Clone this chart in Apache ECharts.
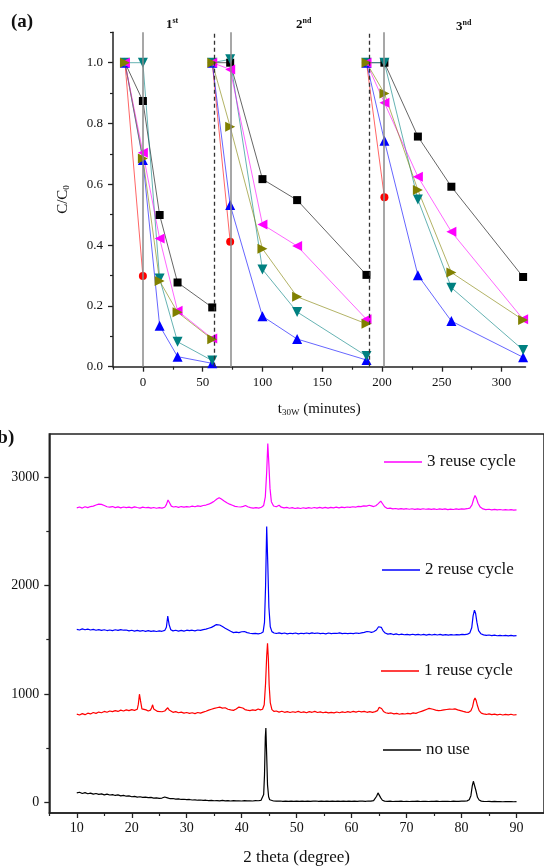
<!DOCTYPE html>
<html><head><meta charset="utf-8">
<script src="https://cdn.jsdelivr.net/npm/echarts@6/dist/echarts.min.js"></script>
<style>html,body{margin:0;padding:0;background:#fff}#c{width:544px;height:867px}</style>
</head><body><div id="c"></div><script>
// ---------- Panel (a) data ----------
const timesCycle1 = [-15, 0, 14, 29, 58];
const timesCycle2 = [58, 73, 100, 129, 187];
const timesCycle3 = [187, 202, 230, 258, 318];
const lightOnT = [0, 73.3, 201.7];
const cycleEndT = [60, 189.6];

const squareC1 = [1.0, 0.874, 0.499, 0.277, 0.195];
const squareC2 = [1.0, 1.0, 0.617, 0.548, 0.302];
const squareC3 = [1.0, 1.0, 0.757, 0.592, 0.295];
const circleC1 = [1.0, 0.298, null, null, null];
const circleC2 = [1.0, 0.411, null, null, null];
const circleC3 = [1.0, 0.557, null, null, null];
const leftTriC1 = [1.0, 0.704, 0.422, 0.184, 0.093];
const leftTriC2 = [1.0, 0.978, 0.468, 0.397, 0.156];
const leftTriC3 = [1.0, 0.868, 0.625, 0.444, 0.156];
const rightTriC1 = [1.0, 0.685, 0.282, 0.179, 0.090];
const rightTriC2 = [1.0, 0.789, 0.388, 0.230, 0.141];
const rightTriC3 = [1.0, 0.899, 0.581, 0.310, 0.154];
const downTriC1 = [1.0, 1.0, 0.290, 0.082, 0.020];
const downTriC2 = [1.0, 1.011, 0.320, 0.180, 0.035];
const downTriC3 = [1.0, 1.0, 0.550, 0.260, 0.055];
const upTriC1 = [1.0, 0.680, 0.135, 0.033, 0.011];
const upTriC2 = [1.0, 0.532, 0.166, 0.091, 0.022];
const upTriC3 = [1.0, 0.743, 0.301, 0.150, 0.031];

const aXLabels = [0, 50, 100, 150, 200, 250, 300];
const aXMinor = [-25, 25, 75, 125, 175, 225, 275];
const aYLabels = [0, 0.2, 0.4, 0.6, 0.8, 1.0];
const aYMinor = [0.1, 0.3, 0.5, 0.7, 0.9, 1.1];

// ---------- Panel (b) data ----------
const bXLabels = [10, 20, 30, 40, 50, 60, 70, 80, 90];
const bXMinor = [5, 15, 25, 35, 45, 55, 65, 75, 85];
const bYLabels = [0, 1000, 2000, 3000];
const bYMinor = [500, 1500, 2500];

const noUse = [[10,86],[10.5,92],[11,80],[11.5,88],[12,78],[12.5,84],[13,74],[13.5,80],[14,72],[14.5,76],[15,68],[15.5,74],[16,66],[16.5,70],[17,62],[17.5,67],[18,58],[18.5,63],[19,55],[19.5,58],[20,50],[20.5,54],[21,47],[21.5,50],[22,44],[22.5,47],[23,42],[23.5,44],[24,38],[24.5,40],[25,35],[25.5,38],[26,48],[26.2,56],[26.5,40],[27,32],[27.5,34],[28,28],[28.5,30],[29,25],[29.5,27],[30,23],[30.5,25],[31,20],[31.5,22],[32,18],[32.5,20],[33,16],[33.5,18],[34,14],[34.5,17],[35,13],[35.5,15],[36,12],[36.5,16],[37,12],[37.5,14],[38,11],[38.5,15],[39,12],[39.5,13],[40,11],[40.5,14],[41,12],[41.5,13],[42,11],[42.5,14],[43,13],[43.5,16],[43.8,22],[44.0,70],[44.15,250],[44.3,600],[44.4,684],[44.55,430],[44.7,160],[44.9,50],[45.1,22],[45.4,14],[45.8,11],[46.3,9],[47,11],[47.5,8],[48,10],[48.5,7],[49,9],[49.5,8],[50,10],[50.5,7],[51,9],[51.5,8],[52,10],[52.5,7],[53,9],[53.5,11],[54,8],[54.5,10],[55,7],[55.5,9],[56,8],[56.5,10],[57,7],[57.5,9],[58,8],[58.5,10],[59,7],[59.5,9],[60,8],[60.5,10],[61,8],[61.5,9],[62,10],[62.5,8],[63,11],[63.5,10],[64,14],[64.3,25],[64.55,55],[64.8,86],[65.05,70],[65.3,40],[65.6,18],[66,10],[66.5,8],[67,9],[67.5,6],[68,8],[68.5,7],[69,9],[69.5,6],[70,8],[70.5,6],[71,8],[71.5,7],[72,9],[72.5,6],[73,8],[73.5,7],[74,6],[74.5,8],[75,7],[75.5,9],[76,6],[76.5,8],[77,7],[77.5,8],[78,6],[78.5,9],[79,7],[79.5,8],[80,9],[80.5,10],[81,12],[81.4,22],[81.7,60],[81.95,150],[82.15,193],[82.35,175],[82.6,110],[82.9,45],[83.2,20],[83.6,10],[84,7],[84.5,6],[85,8],[85.5,5],[86,7],[86.5,5],[87,6],[87.5,4],[88,6],[88.5,5],[89,6],[89.5,4],[90,5]];

const reuse1 = [[10,813],[10.5,805],[11,818],[11.5,808],[12,822],[12.5,815],[13,828],[13.5,820],[14,832],[14.5,826],[15,838],[15.5,830],[16,842],[16.5,836],[17,845],[17.5,838],[18,850],[18.5,842],[19,852],[19.5,845],[20,855],[20.5,848],[21,858],[21.2,905],[21.4,997],[21.6,935],[21.85,862],[22.2,845],[22.6,852],[23,842],[23.4,850],[23.6,870],[23.8,899],[24.0,860],[24.3,845],[24.7,838],[25,845],[25.5,835],[26,842],[26.3,848],[26.55,872],[26.8,852],[27.1,835],[27.5,830],[28,836],[28.5,826],[29,832],[29.5,822],[30,828],[30.5,820],[31,826],[31.5,818],[32,828],[32.5,822],[33,832],[33.5,840],[34,850],[34.5,858],[35,866],[35.5,872],[36,878],[36.5,868],[37,872],[37.5,858],[38,852],[38.5,848],[39,860],[39.5,878],[39.8,881],[40.2,870],[40.6,855],[41,850],[41.5,846],[42,852],[42.5,848],[43,860],[43.4,852],[43.8,858],[44.1,900],[44.35,1100],[44.55,1350],[44.7,1467],[44.85,1330],[45.0,1080],[45.2,920],[45.5,855],[45.9,838],[46.3,842],[46.8,832],[47.3,840],[47.8,830],[48.3,836],[48.8,828],[49.3,835],[49.8,830],[50.3,838],[50.8,828],[51.3,834],[51.8,826],[52.3,836],[52.8,830],[53.3,838],[53.8,828],[54.3,834],[54.8,826],[55.3,832],[55.8,824],[56.3,830],[56.8,825],[57.3,833],[57.8,826],[58.3,834],[58.8,828],[59.3,836],[59.8,830],[60.3,838],[60.8,832],[61.3,840],[61.8,834],[62.3,838],[62.8,830],[63.3,836],[63.8,830],[64.3,836],[64.7,845],[65.0,875],[65.2,883],[65.45,865],[65.8,838],[66.2,826],[66.7,820],[67.2,824],[67.7,815],[68.2,820],[68.7,812],[69.2,818],[69.7,814],[70.2,820],[70.7,816],[71.2,824],[71.7,820],[72.2,830],[72.7,838],[73.2,848],[73.7,858],[74.1,866],[74.4,868],[74.8,858],[75.3,850],[75.8,845],[76.3,848],[76.8,852],[77.3,856],[77.8,860],[78.3,858],[78.8,862],[79.3,852],[79.8,845],[80.3,838],[80.8,832],[81.3,830],[81.7,845],[82.0,880],[82.25,940],[82.45,961],[82.65,940],[82.9,890],[83.2,845],[83.6,822],[84,815],[84.5,810],[85,816],[85.5,808],[86,813],[86.5,806],[87,812],[87.5,805],[88,810],[88.5,806],[89,812],[89.5,805],[90,808]];

const reuse2 = [[10,1596],[10.5,1590],[11,1600],[11.5,1592],[12,1598],[12.5,1590],[13,1596],[13.5,1588],[14,1594],[14.5,1586],[15,1592],[15.5,1585],[16,1590],[16.5,1584],[17,1592],[17.5,1586],[18,1594],[18.5,1588],[19,1590],[19.5,1582],[20,1588],[20.5,1580],[21,1586],[21.5,1580],[22,1585],[22.5,1578],[23,1584],[23.5,1578],[24,1582],[24.5,1576],[25,1582],[25.5,1578],[26,1586],[26.3,1615],[26.55,1718],[26.8,1640],[27.1,1592],[27.5,1582],[28,1588],[28.5,1580],[29,1586],[29.5,1580],[30,1588],[30.2,1602],[30.5,1584],[31,1588],[31.5,1582],[32,1590],[32.5,1586],[33,1594],[33.5,1598],[34,1606],[34.5,1614],[35,1628],[35.4,1640],[35.7,1646],[36,1636],[36.5,1622],[37,1606],[37.5,1592],[38,1578],[38.5,1566],[39,1570],[39.5,1566],[40,1574],[40.5,1576],[41,1566],[41.5,1560],[42,1556],[42.5,1558],[43,1554],[43.5,1560],[43.9,1572],[44.15,1660],[44.35,2000],[44.55,2546],[44.75,2200],[44.95,1800],[45.2,1620],[45.5,1575],[45.9,1562],[46.3,1558],[46.8,1564],[47.3,1556],[47.8,1562],[48.3,1554],[48.8,1560],[49.3,1556],[49.8,1562],[50.3,1554],[50.8,1560],[51.3,1556],[51.8,1562],[52.3,1556],[52.8,1564],[53.3,1558],[53.8,1562],[54.3,1556],[54.8,1560],[55.3,1554],[55.8,1562],[56.3,1556],[56.8,1560],[57.3,1558],[57.8,1564],[58.3,1556],[58.8,1560],[59.3,1556],[59.8,1560],[60.3,1556],[60.8,1562],[61.3,1558],[61.8,1564],[62.3,1568],[62.8,1576],[63.2,1574],[63.6,1568],[64,1574],[64.5,1590],[64.9,1620],[65.15,1637],[65.4,1615],[65.7,1585],[66.1,1562],[66.6,1552],[67.1,1556],[67.6,1548],[68.1,1554],[68.6,1546],[69.1,1552],[69.6,1546],[70.1,1550],[70.6,1545],[71.1,1551],[71.6,1545],[72.1,1550],[72.6,1544],[73.1,1549],[73.6,1543],[74.1,1549],[74.6,1544],[75.1,1550],[75.6,1544],[76.1,1549],[76.6,1543],[77.1,1548],[77.6,1543],[78.1,1548],[78.6,1544],[79.1,1548],[79.6,1545],[80.1,1550],[80.6,1548],[81.1,1552],[81.5,1562],[81.85,1610],[82.1,1720],[82.35,1773],[82.55,1745],[82.8,1660],[83.1,1585],[83.5,1556],[84,1545],[84.5,1540],[85,1544],[85.5,1538],[86,1542],[86.5,1537],[87,1541],[87.5,1537],[88,1540],[88.5,1536],[89,1540],[89.5,1536],[90,1538]];

const reuse3 = [[10,2718],[10.5,2726],[11,2716],[11.5,2728],[12,2720],[12.5,2730],[13,2734],[13.5,2744],[14,2752],[14.5,2750],[15,2740],[15.5,2728],[16,2724],[16.5,2730],[17,2720],[17.5,2727],[18,2718],[18.5,2726],[19,2720],[19.5,2725],[20,2718],[20.5,2727],[21,2721],[21.5,2716],[22,2725],[22.5,2719],[23,2723],[23.5,2715],[24,2721],[24.5,2714],[25,2720],[25.5,2716],[26,2724],[26.3,2748],[26.6,2790],[26.9,2762],[27.2,2734],[27.6,2726],[28,2730],[28.5,2722],[29,2730],[29.5,2724],[30,2730],[30.5,2726],[31,2734],[31.5,2728],[32,2736],[32.5,2732],[33,2740],[33.5,2744],[34,2752],[34.5,2764],[35,2780],[35.5,2800],[35.9,2812],[36.3,2800],[36.8,2782],[37.3,2765],[37.8,2752],[38.3,2742],[38.8,2732],[39.3,2728],[39.8,2726],[40.3,2732],[40.7,2740],[41.1,2728],[41.6,2720],[42.1,2716],[42.6,2720],[43.1,2716],[43.6,2724],[44.0,2740],[44.3,2820],[44.55,3050],[44.75,3313],[44.95,3120],[45.15,2900],[45.4,2775],[45.8,2735],[46.3,2728],[46.8,2742],[47.2,2724],[47.7,2718],[48.2,2722],[48.7,2714],[49.2,2720],[49.7,2712],[50.2,2718],[50.7,2712],[51.2,2719],[51.7,2713],[52.2,2720],[52.7,2714],[53.2,2721],[53.7,2715],[54.2,2722],[54.7,2716],[55.2,2722],[55.7,2716],[56.2,2723],[56.7,2718],[57.2,2724],[57.7,2718],[58.2,2724],[58.7,2720],[59.2,2726],[59.7,2722],[60.2,2728],[60.7,2724],[61.2,2732],[61.7,2730],[62.2,2736],[62.7,2734],[63.2,2742],[63.6,2736],[64,2730],[64.4,2738],[64.8,2755],[65.1,2772],[65.3,2780],[65.6,2758],[66,2728],[66.5,2712],[67,2716],[67.5,2708],[68,2712],[68.5,2706],[69,2711],[69.5,2706],[70,2710],[70.5,2705],[71,2710],[71.5,2704],[72,2709],[72.5,2704],[73,2710],[73.5,2705],[74,2709],[74.5,2704],[75,2708],[75.5,2703],[76,2708],[76.5,2704],[77,2708],[77.5,2702],[78,2707],[78.5,2703],[79,2708],[79.5,2704],[80,2708],[80.5,2706],[81,2710],[81.5,2716],[81.9,2745],[82.2,2800],[82.45,2832],[82.7,2808],[83,2760],[83.4,2725],[83.9,2708],[84.4,2702],[85,2705],[85.5,2700],[86,2704],[86.5,2699],[87,2703],[87.5,2698],[88,2702],[88.5,2698],[89,2701],[89.5,2697],[90,2700]];

// ---------- build ----------
const serif = 'Liberation Serif';
const axisCol = '#222';
const cycleTimes = [timesCycle1, timesCycle2, timesCycle3];

const aSeriesDefs = [
  {name:'square', color:'#000000', symbol:'rect', rotate:0, size:8, vals:[squareC1, squareC2, squareC3]},
  {name:'circle', color:'#ff0000', symbol:'circle', rotate:0, size:8, vals:[circleC1, circleC2, circleC3]},
  {name:'upTri', color:'#0000ff', symbol:'triangle', rotate:0, size:10, vals:[upTriC1, upTriC2, upTriC3]},
  {name:'downTri', color:'#008080', symbol:'triangle', rotate:180, size:10, vals:[downTriC1, downTriC2, downTriC3]},
  {name:'leftTri', color:'#ff00ff', symbol:'triangle', rotate:90, size:10, vals:[leftTriC1, leftTriC2, leftTriC3]},
  {name:'rightTri', color:'#808000', symbol:'triangle', rotate:-90, size:10, vals:[rightTriC1, rightTriC2, rightTriC3]}
];

const series = [];
aSeriesDefs.forEach(def => {
  def.vals.forEach((vals, k) => {
    const data = [];
    cycleTimes[k].forEach((t, i) => { if (vals[i] != null) data.push([t, vals[i]]); });
    series.push({
      type:'line', name: def.name + (k+1), xAxisIndex:0, yAxisIndex:0,
      data, symbol: def.symbol, symbolSize: def.size, symbolRotate: def.rotate,
      itemStyle:{color:def.color, opacity:1},
      lineStyle:{color:def.color, width:1, opacity:0.6},
      animation:false, silent:true, z:3
    });
  });
});

series.push({
  type:'line', name:'vlines', xAxisIndex:0, yAxisIndex:0, data:[], silent:true, animation:false, z:2,
  markLine:{
    silent:true, symbol:['none','none'], label:{show:false}, animation:false,
    data: lightOnT.map(x => ({xAxis:x, lineStyle:{color:'#8a8a8a', type:'solid', width:1.5}}))
      .concat(cycleEndT.map(x => ({xAxis:x, lineStyle:{color:'#333333', type:[4,3], width:1.3}})))
  }
});

const bDefs = [
  {name:'3 reuse cycle', color:'#ff00ff', data:reuse3},
  {name:'2 reuse cycle', color:'#0000ff', data:reuse2},
  {name:'1 reuse cycle', color:'#ff0000', data:reuse1},
  {name:'no use', color:'#000000', data:noUse}
];
bDefs.forEach(d => series.push({
  type:'line', name:d.name, xAxisIndex:2, yAxisIndex:2, data:d.data,
  symbol:'none', showSymbol:false, lineStyle:{color:d.color, width:1.2}, itemStyle:{color:d.color},
  animation:false, silent:true
}));

const legendTops = [452, 560, 661, 740];
const legendLefts = [384, 382, 381, 383];
const legends = bDefs.map((d, i) => ({
  data:[{name:d.name, icon:'rect'}], left:legendLefts[i], top:legendTops[i], padding:0, itemWidth:38, itemHeight:1.3,
  textStyle:{fontFamily:serif, fontSize:17, color:'#111', lineHeight:20}, selectedMode:false
}));

const lblStyle = (size) => ({fontFamily:serif, fontSize:size, color:'#111'});
const plain = v => String(v);

const chart = echarts.init(document.getElementById('c'), null, {renderer:'canvas'});
chart.setOption({
  backgroundColor:'#fff',
  animation:false,
  grid:[
    {left:113, top:32.3, width:412.5, height:334.4, show:false},
    {left:49.3, top:434, width:505.5, height:380.3, show:true, borderColor:'#222', borderWidth:1.5, backgroundColor:'transparent'}
  ],
  xAxis:[
    {gridIndex:0, type:'value', min:-25, max:320, position:'bottom',
     axisLine:{show:true, onZero:false, lineStyle:{color:axisCol, width:1.5}},
     axisTick:{show:true, customValues:aXLabels, length:5, lineStyle:{color:axisCol, width:1.3}},
     axisLabel:Object.assign({customValues:aXLabels, margin:9, formatter:plain}, lblStyle(13)),
     splitLine:{show:false},
     name:'{t|t}{s|30W}{t| (minutes)}', nameLocation:'middle', nameGap:34,
     nameTextStyle:{fontFamily:serif, color:'#111', rich:{t:{fontFamily:serif, fontSize:15, color:'#111'}, s:{fontFamily:serif, fontSize:9, color:'#111', padding:[7,0,0,0]}}}},
    {gridIndex:0, type:'value', min:-25, max:320, position:'bottom', offset:0,
     axisLine:{show:false, onZero:false}, axisTick:{show:true, customValues:aXMinor, length:3, lineStyle:{color:axisCol, width:1.2}},
     axisLabel:{show:false}, splitLine:{show:false}},
    {gridIndex:1, type:'value', min:5, max:95, position:'bottom',
     axisLine:{show:true, onZero:false, lineStyle:{color:axisCol, width:1.5}},
     axisTick:{show:true, customValues:bXLabels, length:5, lineStyle:{color:axisCol, width:1.3}},
     axisLabel:Object.assign({customValues:bXLabels, margin:8, formatter:plain}, lblStyle(14)),
     splitLine:{show:false},
     name:'2 theta (degree)', nameLocation:'middle', nameGap:36,
     nameTextStyle:{fontFamily:serif, fontSize:17, color:'#111'}},
    {gridIndex:1, type:'value', min:5, max:95, position:'bottom', offset:0,
     axisLine:{show:false, onZero:false}, axisTick:{show:true, customValues:bXMinor, length:3, lineStyle:{color:axisCol, width:1.2}},
     axisLabel:{show:false}, splitLine:{show:false}}
  ],
  yAxis:[
    {gridIndex:0, type:'value', min:0, max:1.1, position:'left',
     axisLine:{show:true, onZero:false, lineStyle:{color:axisCol, width:1.5}},
     axisTick:{show:true, customValues:aYLabels, length:5, lineStyle:{color:axisCol, width:1.3}},
     axisLabel:Object.assign({customValues:aYLabels, margin:10, formatter:v => v.toFixed(1)}, lblStyle(13)),
     splitLine:{show:false},
     name:'{t|C/C}{s|0}', nameLocation:'middle', nameGap:42, nameRotate:90,
     nameTextStyle:{fontFamily:serif, color:'#111', rich:{t:{fontFamily:serif, fontSize:15, color:'#111'}, s:{fontFamily:serif, fontSize:9, color:'#111', padding:[7,0,0,0]}}}},
    {gridIndex:0, type:'value', min:0, max:1.1, position:'left', offset:0,
     axisLine:{show:false, onZero:false}, axisTick:{show:true, customValues:aYMinor, length:3, lineStyle:{color:axisCol, width:1.2}},
     axisLabel:{show:false}, splitLine:{show:false}},
    {gridIndex:1, type:'value', min:-100, max:3400, position:'left',
     axisLine:{show:true, onZero:false, lineStyle:{color:axisCol, width:1.5}},
     axisTick:{show:true, customValues:bYLabels, length:5, lineStyle:{color:axisCol, width:1.3}},
     axisLabel:Object.assign({customValues:bYLabels, margin:10, formatter:plain}, lblStyle(14)),
     splitLine:{show:false}},
    {gridIndex:1, type:'value', min:-100, max:3400, position:'left', offset:0,
     axisLine:{show:false, onZero:false}, axisTick:{show:true, customValues:bYMinor, length:3, lineStyle:{color:axisCol, width:1.2}},
     axisLabel:{show:false}, splitLine:{show:false}}
  ],
  legend: legends,
  graphic:[
    {type:'text', left:11, top:13, style:{text:'(a)', font:'bold 19px "Liberation Serif"', fill:'#111'}},
    {type:'text', left:-9, top:429, style:{text:'(b)', font:'bold 19px "Liberation Serif"', fill:'#111'}},
    {type:'text', left:166, top:17, style:{text:'{m|1}{s|st}', rich:{m:{font:'bold 13px "Liberation Serif"', fill:'#111'}, s:{font:'bold 8px "Liberation Serif"', fill:'#111', padding:[0,0,7,0]}}}},
    {type:'text', left:296, top:17, style:{text:'{m|2}{s|nd}', rich:{m:{font:'bold 13px "Liberation Serif"', fill:'#111'}, s:{font:'bold 8px "Liberation Serif"', fill:'#111', padding:[0,0,7,0]}}}},
    {type:'text', left:456, top:19, style:{text:'{m|3}{s|nd}', rich:{m:{font:'bold 13px "Liberation Serif"', fill:'#111'}, s:{font:'bold 8px "Liberation Serif"', fill:'#111', padding:[0,0,7,0]}}}}
  ],
  series
});
</script></body></html>
